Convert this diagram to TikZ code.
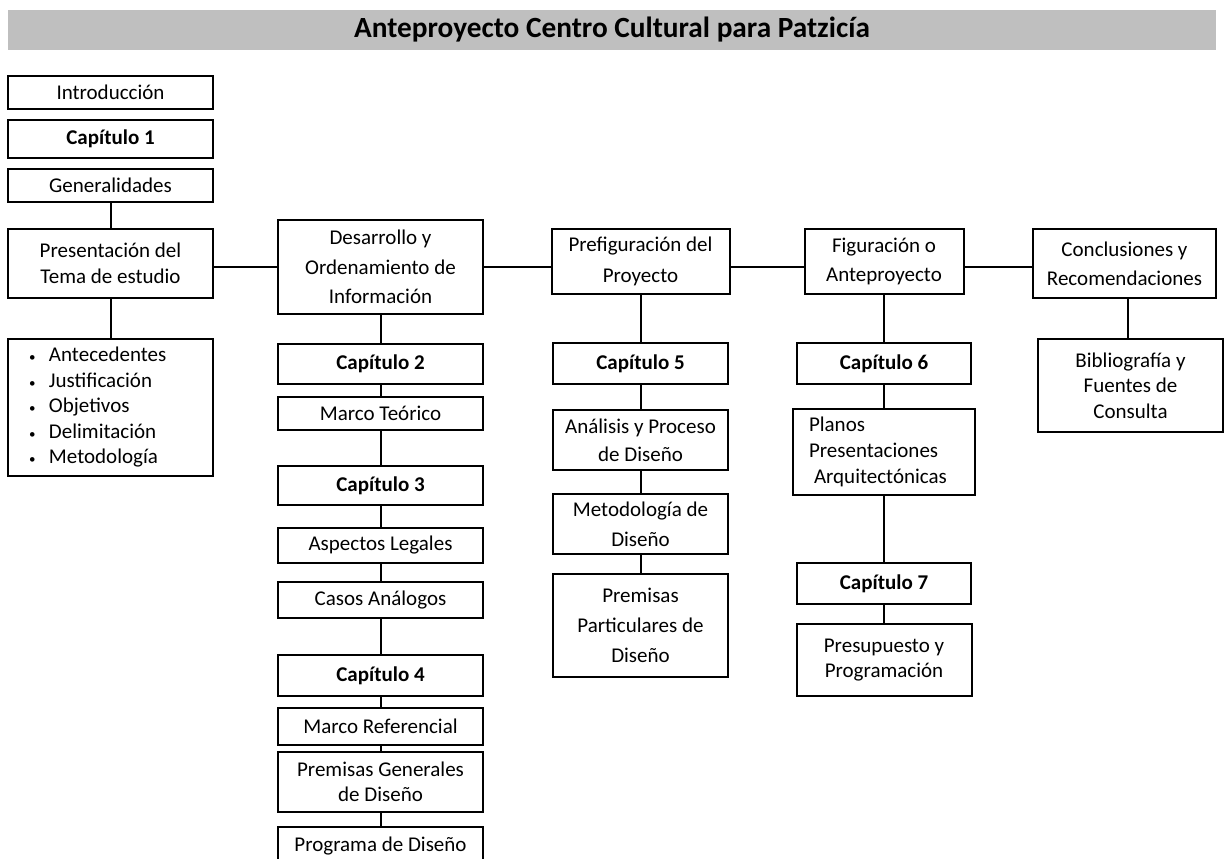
\documentclass[tikz,border=0pt]{standalone}
\usepackage{fontspec}
\setmainfont{Carlito}
\usepackage{tikz}
\usepackage{xcolor}
\definecolor{barra}{HTML}{BFBFBF}

\begin{document}
\begin{tikzpicture}[x=1pt, y=-1pt,
    box/.style={rectangle, draw, line width=2pt, inner sep=0pt, align=center, font=\fontsize{21}{28}\selectfont},
    capbox/.style={box, line width=2.8pt, font=\fontsize{21}{28}\selectfont\bfseries},
    tight/.style={font=\fontsize{21}{25.5}\selectfont},
    loose/.style={font=\fontsize{21}{30}\selectfont},
    link/.style={line width=2pt},
    titulo/.style={rectangle, fill=barra, minimum width=1208pt, minimum height=40pt, inner sep=0pt, font=\fontsize{29.3}{34}\selectfont\bfseries}
]
    \useasboundingbox (0,0) rectangle (1224,859);

    % Title bar
    \node[titulo] (tit) at (612,30) {Anteproyecto Centro Cultural para Patzicía};

    % Column 1
    \node[box, minimum width=205pt, minimum height=33pt] (intro) at (110.5,92.5) {Introducción};
    \node[capbox, minimum width=205pt, minimum height=38pt] (cap1) at (110.5,139) {Capítulo 1};
    \node[box, minimum width=205pt, minimum height=33pt] (gen) at (110.5,185.5) {Generalidades};
    \node[box, minimum width=205pt, minimum height=69pt, font=\fontsize{21}{26}\selectfont] (pres) at (110.5,263.5) {Presentación del\\Tema de estudio};
    \node[box, tight, minimum width=205pt, minimum height=137pt, text width=163pt, inner xsep=21pt, align=left] (temas) at (110.5,407.5)
        {\makebox[20pt][l]{\fontsize{13}{13}\selectfont•}Antecedentes\\
         \makebox[20pt][l]{\fontsize{13}{13}\selectfont•}Justificación\\
         \makebox[20pt][l]{\fontsize{13}{13}\selectfont•}Objetivos\\
         \makebox[20pt][l]{\fontsize{13}{13}\selectfont•}Delimitación\\
         \makebox[20pt][l]{\fontsize{13}{13}\selectfont•}Metodología};

    % Column 2
    \node[box, minimum width=205pt, minimum height=94pt, font=\fontsize{21}{29.5}\selectfont] (desa) at (380.5,267) {Desarrollo y\\Ordenamiento de\\Información};
    \node[capbox, minimum width=205pt, minimum height=40pt] (cap2) at (380.5,364) {Capítulo 2};
    \node[box, minimum width=205pt, minimum height=33pt] (marcoT) at (380.5,413.5) {Marco Teórico};
    \node[capbox, minimum width=205pt, minimum height=39pt] (cap3) at (380.5,485.5) {Capítulo 3};
    \node[box, minimum width=205pt, minimum height=35pt] (legal) at (380.5,545.5) {Aspectos Legales};
    \node[box, minimum width=205pt, minimum height=36pt] (casos) at (380.5,600) {Casos Análogos};
    \node[capbox, minimum width=205pt, minimum height=41pt] (cap4) at (380.5,675.5) {Capítulo 4};
    \node[box, minimum width=205pt, minimum height=37pt] (marcoR) at (380.5,726.5) {Marco Referencial};
    \node[box, tight, minimum width=205pt, minimum height=60pt] (premG) at (380.5,782) {Premisas Generales\\de Diseño};
    \node[box, minimum width=205pt, minimum height=38pt] (prog) at (380.5,846) {Programa de Diseño};

    % Column 3
    \node[box, minimum width=178pt, minimum height=65pt, font=\fontsize{21}{31}\selectfont] (pref) at (640.5,261.5) {Prefiguración del\\Proyecto};
    \node[capbox, minimum width=175pt, minimum height=41pt] (cap5) at (640.5,363.5) {Capítulo 5};
    \node[box, minimum width=175pt, minimum height=60pt] (anal) at (640.5,440) {Análisis y Proceso\\de Diseño};
    \node[box, loose, minimum width=175pt, minimum height=60pt] (metod) at (640.5,524) {Metodología de\\Diseño};
    \node[box, loose, minimum width=175pt, minimum height=103pt] (premP) at (640.5,625.5) {Premisas\\Particulares de\\Diseño};

    % Column 4
    \node[box, minimum width=159pt, minimum height=65pt, font=\fontsize{21}{29}\selectfont] (fig) at (884,261.5) {Figuración o\\Anteproyecto};
    \node[capbox, minimum width=174pt, minimum height=41pt] (cap6) at (884,363.5) {Capítulo 6};
    \node[box, font=\fontsize{21}{26}\selectfont, minimum width=182pt, minimum height=86pt, text width=150pt, inner xsep=16pt, align=left] (planos) at (884,452) {Planos\\Presentaciones\\\hspace*{5pt}Arquitectónicas};
    \node[capbox, minimum width=174pt, minimum height=41pt] (cap7) at (884,583.5) {Capítulo 7};
    \node[box, tight, minimum width=175pt, minimum height=72pt] (presu) at (884,660) {Presupuesto y\\Programación};

    % Column 5
    \node[box, minimum width=183pt, minimum height=69pt, font=\fontsize{21}{29}\selectfont] (concl) at (1124.5,263.5) {Conclusiones y\\Recomendaciones};
    \node[box, tight, minimum width=185pt, minimum height=93pt] (biblio) at (1130.5,385.5) {Bibliografía y\\Fuentes de\\Consulta};

    % Main row
    \draw[link] (pres.east |- desa.center) -- (desa.west);
    \draw[link] (desa.east) -- (desa.east -| pref.west);
    \draw[link] (pref.east |- desa.center) -- (fig.west |- desa.center);
    \draw[link] (fig.east |- desa.center) -- (concl.west |- desa.center);

    % Vertical chains
    \foreach \a/\b in {gen/pres, pres/temas,
                       desa/cap2, cap2/marcoT, marcoT/cap3, cap3/legal, legal/casos, casos/cap4, cap4/marcoR, marcoR/premG, premG/prog,
                       pref/cap5, cap5/anal, anal/metod, metod/premP,
                       fig/cap6, cap6/planos, planos/cap7, cap7/presu}
        \draw[link] (\b.north |- \a.south) -- (\b.north);
    \draw[link] (concl.south) ++(3.5,0) coordinate (cc) -- (cc |- biblio.north);
\end{tikzpicture}
\end{document}
